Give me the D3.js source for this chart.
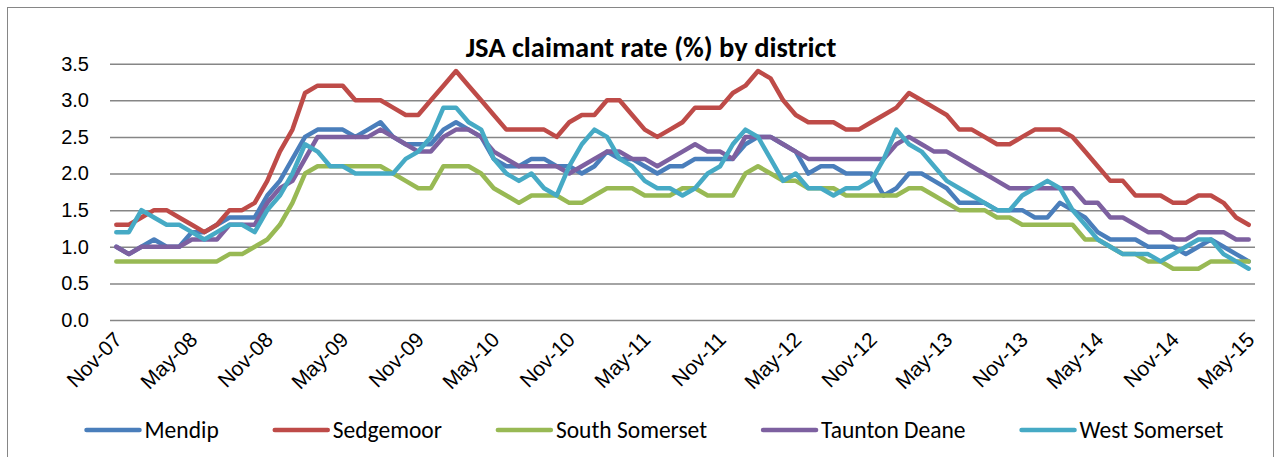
<!DOCTYPE html>
<html>
<head>
<meta charset="utf-8">
<script src="https://cdn.jsdelivr.net/npm/d3@7"></script>
<style>
  html, body { margin: 0; padding: 0; background: #fff; }
  svg { display: block; font-family: Carlito, Lato, "Liberation Sans", sans-serif; }
</style>
</head>
<body>
<script>
// months Nov-07 .. May-15
const months = []
const monthNames = ['Jan', 'Feb', 'Mar', 'Apr', 'May', 'Jun', 'Jul', 'Aug', 'Sep', 'Oct', 'Nov', 'Dec']
for (let k = 0; k < 91; k++) {
    const m = (10 + k) % 12, yr = 7 + Math.floor((10 + k) / 12)
    months.push(monthNames[m] + '-' + String(yr).padStart(2, '0'))
}
const tickLabels = ['Nov-07', 'May-08', 'Nov-08', 'May-09', 'Nov-09', 'May-10', 'Nov-10', 'May-11',
    'Nov-11', 'May-12', 'Nov-12', 'May-13', 'Nov-13', 'May-14', 'Nov-14', 'May-15']
const yTicks = [0, 0.5, 1, 1.5, 2, 2.5, 3, 3.5]

const districts = ['Mendip', 'Sedgemoor', 'South Somerset', 'Taunton Deane', 'West Somerset']

const mendip = [
    1.0, 0.9, 1.0, 1.1, 1.0, 1.0, 1.2, 1.2, 1.3, 1.4, 1.4, 1.4, 1.7, 1.9, 2.2, 2.5,
    2.6, 2.6, 2.6, 2.5, 2.6, 2.7, 2.5, 2.4, 2.4, 2.4, 2.6, 2.7, 2.6, 2.5, 2.2,
    2.1, 2.1, 2.2, 2.2, 2.1, 2.1, 2.0, 2.1, 2.3, 2.2, 2.2, 2.1, 2.0, 2.1, 2.1,
    2.2, 2.2, 2.2, 2.2, 2.4, 2.5, 2.5, 2.4, 2.3, 2.0, 2.1, 2.1, 2.0, 2.0, 2.0,
    1.7, 1.8, 2.0, 2.0, 1.9, 1.8, 1.6, 1.6, 1.6, 1.5, 1.5, 1.5, 1.4, 1.4, 1.6,
    1.5, 1.4, 1.2, 1.1, 1.1, 1.1, 1.0, 1.0, 1.0, 0.9, 1.0, 1.1, 1.0, 0.9, 0.8]
const sedgemoor = [
    1.3, 1.3, 1.4, 1.5, 1.5, 1.4, 1.3, 1.2, 1.3, 1.5, 1.5, 1.6, 1.9, 2.3, 2.6, 3.1,
    3.2, 3.2, 3.2, 3.0, 3.0, 3.0, 2.9, 2.8, 2.8, 3.0, 3.2, 3.4, 3.2, 3.0, 2.8,
    2.6, 2.6, 2.6, 2.6, 2.5, 2.7, 2.8, 2.8, 3.0, 3.0, 2.8, 2.6, 2.5, 2.6, 2.7,
    2.9, 2.9, 2.9, 3.1, 3.2, 3.4, 3.3, 3.0, 2.8, 2.7, 2.7, 2.7, 2.6, 2.6, 2.7,
    2.8, 2.9, 3.1, 3.0, 2.9, 2.8, 2.6, 2.6, 2.5, 2.4, 2.4, 2.5, 2.6, 2.6, 2.6,
    2.5, 2.3, 2.1, 1.9, 1.9, 1.7, 1.7, 1.7, 1.6, 1.6, 1.7, 1.7, 1.6, 1.4, 1.3]
const southSomerset = [
    0.8, 0.8, 0.8, 0.8, 0.8, 0.8, 0.8, 0.8, 0.8, 0.9, 0.9, 1.0, 1.1, 1.3, 1.6, 2.0,
    2.1, 2.1, 2.1, 2.1, 2.1, 2.1, 2.0, 1.9, 1.8, 1.8, 2.1, 2.1, 2.1, 2.0, 1.8,
    1.7, 1.6, 1.7, 1.7, 1.7, 1.6, 1.6, 1.7, 1.8, 1.8, 1.8, 1.7, 1.7, 1.7, 1.8,
    1.8, 1.7, 1.7, 1.7, 2.0, 2.1, 2.0, 1.9, 1.9, 1.8, 1.8, 1.8, 1.7, 1.7, 1.7,
    1.7, 1.7, 1.8, 1.8, 1.7, 1.6, 1.5, 1.5, 1.5, 1.4, 1.4, 1.3, 1.3, 1.3, 1.3,
    1.3, 1.1, 1.1, 1.0, 0.9, 0.9, 0.8, 0.8, 0.7, 0.7, 0.7, 0.8, 0.8, 0.8, 0.8]
const tauntonDeane = [
    1.0, 0.9, 1.0, 1.0, 1.0, 1.0, 1.1, 1.1, 1.1, 1.3, 1.3, 1.3, 1.6, 1.8, 1.9, 2.2,
    2.5, 2.5, 2.5, 2.5, 2.5, 2.6, 2.5, 2.4, 2.3, 2.3, 2.5, 2.6, 2.6, 2.5, 2.3,
    2.2, 2.1, 2.1, 2.1, 2.1, 2.0, 2.1, 2.2, 2.3, 2.3, 2.2, 2.2, 2.1, 2.2, 2.3,
    2.4, 2.3, 2.3, 2.2, 2.5, 2.5, 2.5, 2.4, 2.3, 2.2, 2.2, 2.2, 2.2, 2.2, 2.2,
    2.2, 2.4, 2.5, 2.4, 2.3, 2.3, 2.2, 2.1, 2.0, 1.9, 1.8, 1.8, 1.8, 1.8, 1.8,
    1.8, 1.6, 1.6, 1.4, 1.4, 1.3, 1.2, 1.2, 1.1, 1.1, 1.2, 1.2, 1.2, 1.1, 1.1]
const westSomerset = [
    1.2, 1.2, 1.5, 1.4, 1.3, 1.3, 1.2, 1.1, 1.2, 1.3, 1.3, 1.2, 1.5, 1.7, 2.0, 2.4,
    2.3, 2.1, 2.1, 2.0, 2.0, 2.0, 2.0, 2.2, 2.3, 2.5, 2.9, 2.9, 2.7, 2.6, 2.2,
    2.0, 1.9, 2.0, 1.8, 1.7, 2.1, 2.4, 2.6, 2.5, 2.2, 2.1, 1.9, 1.8, 1.8, 1.7,
    1.8, 2.0, 2.1, 2.4, 2.6, 2.5, 2.2, 1.9, 2.0, 1.8, 1.8, 1.7, 1.8, 1.8, 1.9,
    2.2, 2.6, 2.4, 2.3, 2.1, 1.9, 1.8, 1.7, 1.6, 1.5, 1.5, 1.7, 1.8, 1.9, 1.8,
    1.5, 1.3, 1.1, 1.0, 0.9, 0.9, 0.9, 0.8, 0.9, 1.0, 1.1, 1.1, 0.9, 0.8, 0.7]

const seriesValues = [mendip, sedgemoor, southSomerset, tauntonDeane, westSomerset]
const colors = ['#4A7EBB', '#BE4B48', '#98B954', '#7D60A0', '#46AAC5']

const width = 1284, height = 457
const plot = { left: 110, right: 1255, top: 63.7, bottom: 320 }

const svg = d3.select('body').append('svg')
    .attr('width', width)
    .attr('height', height)

// chart frame
svg.append('rect')
    .attr('x', 7.5).attr('y', 7.5)
    .attr('width', 1266).attr('height', 470)
    .attr('fill', 'none')
    .attr('stroke', '#868686')

let x = d3.scaleBand().domain(months).range([plot.left, plot.right]).padding(0)
let y = d3.scaleLinear().domain([0, 3.5]).range([plot.bottom, plot.top])
const cx = d => x(d) + x.bandwidth() / 2

// gridlines + y labels
svg.append('g')
    .attr('transform', `translate(${plot.left},0)`)
    .call(d3.axisLeft(y).tickValues(yTicks).tickSize(-(plot.right - plot.left)).tickPadding(21).tickFormat(d3.format('.1f')))
    .call(g => g.select('.domain').remove())
    .call(g => g.selectAll('.tick line').attr('stroke', '#868686').attr('stroke-width', 1.5))
    .call(g => g.selectAll('.tick text').attr('fill', '#000').attr('font-size', 20))

// x axis labels
svg.append('g')
    .attr('transform', `translate(0,${plot.bottom})`)
    .call(d3.axisBottom(x).tickValues(tickLabels).tickSize(0).tickFormat(d => d))
    .call(g => g.select('.domain').remove())
    .call(g => g.selectAll('.tick text')
        .attr('fill', '#000')
        .attr('font-size', 21)
        .attr('text-anchor', 'end')
        .attr('y', 0).attr('dy', 0)
        .attr('transform', 'translate(7,21) rotate(-45)'))

// lines
const line = d3.line()
    .x((d, i) => cx(months[i]))
    .y(d => y(d))

svg.append('g').selectAll('path')
    .data(seriesValues)
    .join('path')
    .attr('fill', 'none')
    .attr('stroke', (d, i) => colors[i])
    .attr('stroke-width', 4.5)
    .attr('stroke-linejoin', 'round')
    .attr('stroke-linecap', 'round')
    .attr('d', line)

// title
svg.append('text')
    .attr('x', 651).attr('y', 57)
    .attr('text-anchor', 'middle')
    .attr('font-size', 28.5)
    .attr('font-weight', 'bold')
    .text('JSA claimant rate (%) by district')

// legend
const legend = svg.append('g')
const items = legend.selectAll('g').data(districts).join('g')
items.append('line')
    .attr('x1', 0).attr('x2', 53).attr('y1', 0).attr('y2', 0)
    .attr('stroke', (d, i) => colors[i])
    .attr('stroke-width', 4.5)
    .attr('stroke-linecap', 'round')
items.append('text')
    .attr('x', 58).attr('y', 8)
    .attr('font-size', 23.5)
    .text(d => d)
const widths = []
items.each(function () {
    const w = 58 + this.querySelector('text').getComputedTextLength()
    widths.push(w)
})
const gap = 56
const total = d3.sum(widths) + gap * (widths.length - 1)
let start = 655 - total / 2
items.attr('transform', (d, i) => {
    const t = `translate(${start},430)`
    start += widths[i] + gap
    return t
})
</script>
</body>
</html>
